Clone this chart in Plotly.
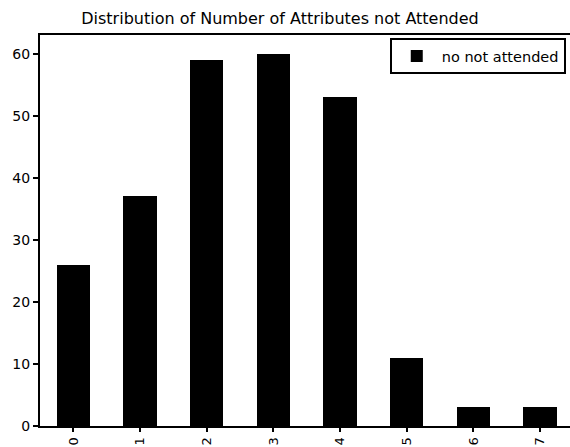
import plotly.graph_objects as go

categories = ["0", "1", "2", "3", "4", "5", "6", "7"]
counts = [26, 37, 59, 60, 53, 11, 3, 3]
series_name = "no not attended"
title_text = "Distribution of Number of Attributes not Attended"
y_ticks = [0, 10, 20, 30, 40, 50, 60]

FONT = "DejaVu Sans"

fig = go.Figure()
fig.add_trace(go.Bar(
    x=list(range(len(categories))),
    y=counts,
    name=series_name,
    width=0.5,
    marker=dict(color="black", line=dict(width=0)),
    showlegend=True,
))

fig.update_layout(
    template="none",
    width=570,
    height=447,
    margin=dict(l=40, r=0, t=35, b=21, autoexpand=False),
    paper_bgcolor="white",
    plot_bgcolor="white",
    font=dict(family=FONT, color="black", size=13),
    title=dict(
        text=title_text,
        x=280 / 570,
        xref="container",
        xanchor="center",
        y=1 - 18 / 447,
        yref="container",
        yanchor="middle",
        font=dict(family=FONT, size=16, color="black"),
    ),
    showlegend=True,
    legend=dict(
        x=0.992,
        y=0.992,
        xanchor="right",
        yanchor="top",
        bgcolor="white",
        bordercolor="black",
        borderwidth=2,
        font=dict(family=FONT, size=14.5, color="black"),
        itemwidth=40,
        tracegroupgap=0,
    ),
    bargap=0,
)

fig.update_xaxes(
    range=[-0.5, 7.45],
    tickmode="array",
    tickvals=list(range(len(categories))),
    ticktext=categories,
    tickangle=-90,
    ticks="outside",
    ticklen=4,
    tickwidth=1.5,
    tickcolor="black",
    showline=True,
    linecolor="black",
    linewidth=2,
    mirror=True,
    showgrid=False,
    zeroline=False,
    automargin=False,
    tickfont=dict(family=FONT, size=13, color="black"),
)

fig.update_yaxes(
    range=[0, 63],
    tickmode="array",
    tickvals=y_ticks,
    ticktext=[str(v) for v in y_ticks],
    ticks="outside",
    ticklen=5,
    tickwidth=1.5,
    tickcolor="black",
    showline=True,
    linecolor="black",
    linewidth=2,
    mirror=False,
    showgrid=False,
    zeroline=False,
    automargin=False,
    tickfont=dict(family=FONT, size=14, color="black"),
)

fig.write_html(
    "out.html",
    config={"displayModeBar": False},
    post_script="document.body.style.margin='0';document.body.style.overflow='hidden';",
)
